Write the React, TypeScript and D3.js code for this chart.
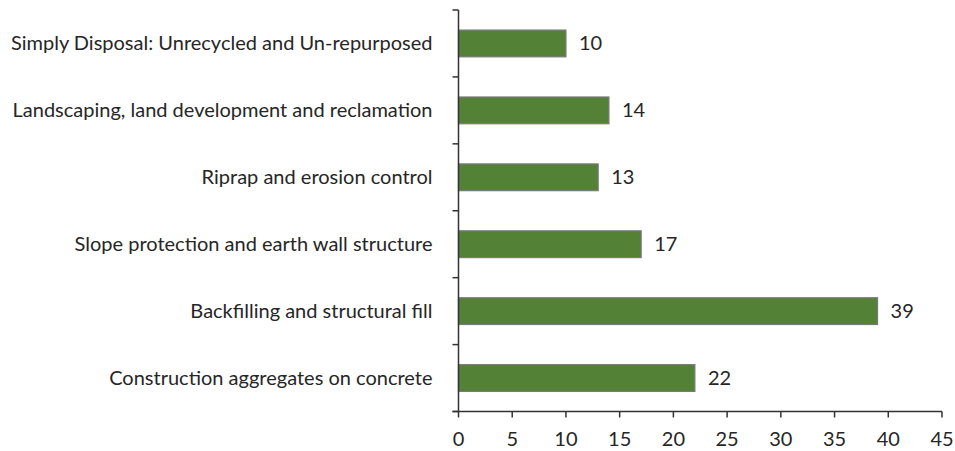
import React from "react";
import * as d3 from "d3";

const categories = [
  "Simply Disposal: Unrecycled and Un-repurposed",
  "Landscaping, land development and reclamation",
  "Riprap and erosion control",
  "Slope protection and earth wall structure",
  "Backfilling and structural fill",
  "Construction aggregates on concrete",
];
const values = [10, 14, 13, 17, 39, 22];
const xTicks = [0, 5, 10, 15, 20, 25, 30, 35, 40, 45];

const W = 955;
const H = 451;
const left = 458.5;
const right = 942;
const top = 10;
const bottom = 411.5;
const font = "Lato, 'Open Sans', sans-serif";
const textColor = "#262626";

export default function App() {
  const x = d3.scaleLinear().domain([0, 45]).range([left, right]);
  const y = d3
    .scaleBand<string>()
    .domain(categories)
    .range([top, bottom])
    .paddingInner(0.6)
    .paddingOuter(0.3);
  const boundaries = d3
    .range(categories.length + 1)
    .map((i) => top + i * ((bottom - top) / categories.length));

  return (
    <svg
      width={W}
      height={H}
      style={{ position: "absolute", left: 0, top: 0, background: "#fff" }}
    >
      {categories.map((c, i) => (
        <g key={c}>
          <rect
            x={x(0)}
            y={y(c)!}
            width={x(values[i]) - x(0)}
            height={y.bandwidth()}
            fill="#538135"
            stroke="#7a7a7a"
            strokeWidth={1.2}
          />
          <text
            x={x(values[i]) + 13}
            y={y(c)! + y.bandwidth() / 2}
            dy="0.35em"
            fontFamily={font}
            fontSize={20}
            fill={textColor}
          >
            {values[i]}
          </text>
          <text
            x={left - 26}
            y={y(c)! + y.bandwidth() / 2}
            dy="0.35em"
            textAnchor="end"
            fontFamily={font}
            fontSize={20}
            fill={textColor}
          >
            {c}
          </text>
        </g>
      ))}
      {/* category axis */}
      <line x1={left} x2={left} y1={top} y2={bottom} stroke="#333" strokeWidth={1.5} />
      {boundaries.map((b, i) => (
        <line key={i} x1={left - 6} x2={left} y1={b} y2={b} stroke="#333" strokeWidth={1.5} />
      ))}
      {/* value axis */}
      <line x1={left - 6} x2={right} y1={bottom} y2={bottom} stroke="#333" strokeWidth={1.5} />
      {xTicks.map((t) => (
        <g key={t}>
          <line x1={x(t)} x2={x(t)} y1={bottom} y2={bottom + 6} stroke="#333" strokeWidth={1.5} />
          <text
            x={x(t)}
            y={439}
            dy="0.35em"
            textAnchor="middle"
            fontFamily={font}
            fontSize={20}
            fill={textColor}
          >
            {t}
          </text>
        </g>
      ))}
    </svg>
  );
}
